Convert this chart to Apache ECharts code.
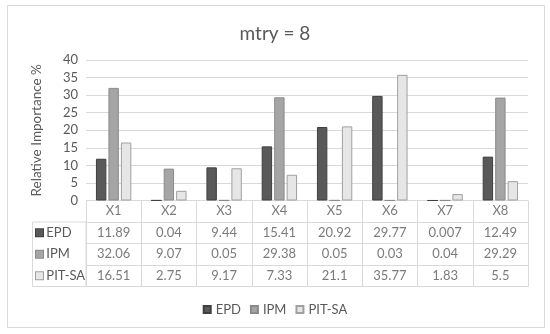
<!DOCTYPE html>
<html><head><meta charset="utf-8">
<script src="https://cdn.jsdelivr.net/npm/echarts@6/dist/echarts.min.js"></script>
<style>html,body{margin:0;padding:0;background:#fff}#c{width:550px;height:334px}</style>
</head><body><div id="c"></div>
<script>
const categories = ['X1','X2','X3','X4','X5','X6','X7','X8'];
const seriesNames = ['EPD','IPM','PIT-SA'];
const epd   = [11.89, 0.04, 9.44, 15.41, 20.92, 29.77, 0.007, 12.49];
const ipm   = [32.06, 9.07, 0.05, 29.38, 0.05, 0.03, 0.04, 29.29];
const pitsa = [16.51, 2.75, 9.17, 7.33, 21.1, 35.77, 1.83, 5.5];
const epdText   = ['11.89','0.04','9.44','15.41','20.92','29.77','0.007','12.49'];
const ipmText   = ['32.06','9.07','0.05','29.38','0.05','0.03','0.04','29.29'];
const pitsaText = ['16.51','2.75','9.17','7.33','21.1','35.77','1.83','5.5'];
const yTicks = [0,5,10,15,20,25,30,35,40];

const fills = ['#595959','#a5a5a5','#e6e6e6'];
const borders = ['#3f3f3f','#8a8a8a','#a0a0a0'];
const FONT = 'Lato';
const TXT = '#595959';
const LINE = '#d9d9d9';

const G1top = 60, Gbottom0 = 200.5, tableBottom = 286.5, gLeft = 86, gRight = 22;
const rowH = (tableBottom - Gbottom0) / 4;

const values = [epd, ipm, pitsa];
const texts = [epdText, ipmText, pitsaText];
const tableData = [];
categories.forEach((c, i) => {
  tableData.push([i, 0, c]);
  texts.forEach((t, r) => tableData.push([i, r + 1, t[i]]));
});

const chart = echarts.init(document.getElementById('c'), null, {renderer: 'canvas'});
chart.setOption({
  animation: false,
  textStyle: {fontFamily: FONT},
  title: {text: 'mtry = 8', left: 'center', top: 19,
    textStyle: {fontFamily: FONT, fontSize: 19, fontWeight: 'normal', color: TXT}},
  legend: {data: seriesNames, bottom: 13, left: 'center', icon: 'rect', itemWidth: 7, itemHeight: 7, itemGap: 9,
    textStyle: {fontFamily: FONT, fontSize: 13, color: TXT}},
  grid: [
    {left: gLeft, right: gRight, top: G1top, bottom: 334 - Gbottom0},
    {left: gLeft, right: gRight, top: Gbottom0, bottom: 334 - tableBottom}
  ],
  xAxis: [
    {type: 'category', gridIndex: 0, data: categories, axisLine: {show: false}, axisTick: {show: false}, axisLabel: {show: false}},
    {type: 'category', gridIndex: 1, data: categories, boundaryGap: true,
      axisLine: {show: true, lineStyle: {color: LINE}}, axisTick: {show: false}, axisLabel: {show: false},
      splitLine: {show: true, lineStyle: {color: LINE}}}
  ],
  yAxis: [
    {type: 'value', gridIndex: 0, min: 0, max: 40, interval: 5,
      name: 'Relative Importance %', nameLocation: 'middle', nameGap: 42,
      nameTextStyle: {fontFamily: FONT, fontSize: 13.5, color: TXT},
      axisLine: {show: false}, axisTick: {show: false},
      axisLabel: {fontFamily: FONT, fontSize: 13, color: TXT, margin: 8},
      splitLine: {lineStyle: {color: LINE}}},
    {type: 'category', gridIndex: 1, data: ['', 'EPD', 'IPM', 'PIT-SA'], inverse: true,
      axisLine: {show: true, lineStyle: {color: LINE}}, axisTick: {show: false},
      splitLine: {show: true, lineStyle: {color: LINE}},
      axisLabel: {align: 'left', margin: 50, fontFamily: FONT, fontSize: 13, color: TXT,
        formatter: (v, i) => v ? '{s' + i + '|} ' + v : '',
        rich: {
          s1: {width: 7, height: 7, backgroundColor: fills[0], borderColor: borders[0], borderWidth: 1},
          s2: {width: 7, height: 7, backgroundColor: fills[1], borderColor: borders[1], borderWidth: 1},
          s3: {width: 7, height: 7, backgroundColor: fills[2], borderColor: borders[2], borderWidth: 1}
        }}}
  ],
  series: seriesNames.map((n, k) => ({
    name: n, type: 'bar', xAxisIndex: 0, yAxisIndex: 0, data: values[k],
    barGap: '20%', barCategoryGap: '36%',
    itemStyle: {color: fills[k], borderColor: borders[k], borderWidth: 1}
  })).concat([{
    type: 'scatter', xAxisIndex: 1, yAxisIndex: 1, data: tableData, symbolSize: 1, silent: true,
    itemStyle: {color: 'rgba(0,0,0,0)'},
    label: {show: true, position: 'inside', formatter: p => p.value[2], fontFamily: FONT, fontSize: 13, color: TXT}
  }]),
  graphic: [
    {type: 'rect', shape: {x: 7.5, y: 5.5, width: 537, height: 322}, style: {fill: 'none', stroke: LINE, lineWidth: 1}, silent: true},
    {type: 'rect', shape: {x: 32.5, y: Gbottom0 + rowH, width: gLeft - 32.5, height: rowH * 3}, style: {fill: 'none', stroke: LINE, lineWidth: 1}, silent: true}
  ]
});
</script></body></html>
